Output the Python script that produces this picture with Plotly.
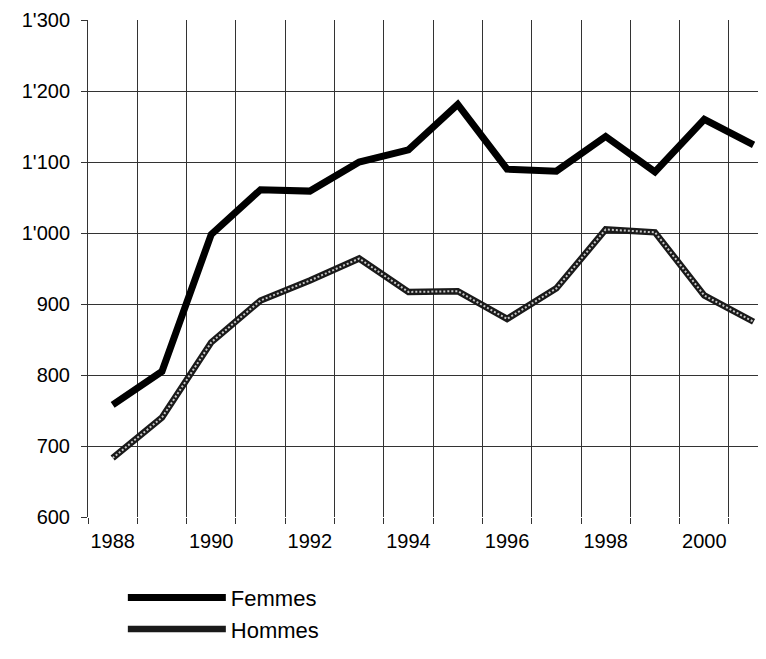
import plotly.graph_objects as go

years = [1988, 1989, 1990, 1991, 1992, 1993, 1994, 1995, 1996, 1997, 1998, 1999, 2000, 2001]
femmes = [758, 805, 998, 1061, 1059, 1100, 1117, 1181, 1090, 1087, 1136, 1086, 1160, 1124]
hommes = [683, 740, 846, 905, 933, 964, 917, 918, 879, 922, 1005, 1001, 912, 875]

x_labels = ["1988", "", "1990", "", "1992", "", "1994", "", "1996", "", "1998", "", "2000", ""]
y_ticks = [600, 700, 800, 900, 1000, 1100, 1200, 1300]
y_labels = ["600", "700", "800", "900", "1'000", "1'100", "1'200", "1'300"]

cats = [str(y) for y in years]
FONT = "Arial, Liberation Sans, sans-serif"

fig = go.Figure()
fig.add_trace(go.Scatter(x=cats, y=femmes, mode="lines", name="Femmes",
                         line=dict(color="black", width=7)))
fig.add_trace(go.Scatter(x=cats, y=hommes, mode="lines", name="Hommes",
                         line=dict(color="#1a1a1a", width=6.5)))
fig.add_trace(go.Scatter(x=cats, y=hommes, mode="lines", name="Hommes",
                         showlegend=False, hoverinfo="skip",
                         line=dict(color="#c8c8c8", width=2, dash="2px,2px")))

fig.update_layout(
    width=750, height=643,
    margin=dict(l=80, r=0, t=12, b=121),
    paper_bgcolor="white", plot_bgcolor="white",
    font=dict(family=FONT, size=20, color="black"),
    showlegend=True,
    legend=dict(x=0.052, xanchor="left", y=-0.12, yanchor="top",
                itemwidth=98, font=dict(size=22), tracegroupgap=0,
                bgcolor="rgba(0,0,0,0)"),
    xaxis=dict(type="category", tickson="boundaries",
               tickvals=cats, ticktext=x_labels,
               range=[-0.5, 13.09], automargin=False, tickangle=0,
               showgrid=True, gridcolor="#333333", gridwidth=1,
               ticks="outside", ticklen=6, tickcolor="#333333",
               ticklabelstandoff=10, ticklabeloverflow="allow",
               showline=False, zeroline=False,
               tickfont=dict(size=20)),
    yaxis=dict(range=[600, 1300], tickvals=y_ticks, ticktext=y_labels,
               automargin=False, ticklabeloverflow="allow",
               ticklabelstandoff=7,
               showgrid=True, gridcolor="#333333", gridwidth=1,
               ticks="outside", ticklen=6, tickcolor="#333333",
               showline=True, linecolor="#333333", linewidth=1,
               zeroline=False, tickfont=dict(size=20)),
)

fig.write_html("out.html")
